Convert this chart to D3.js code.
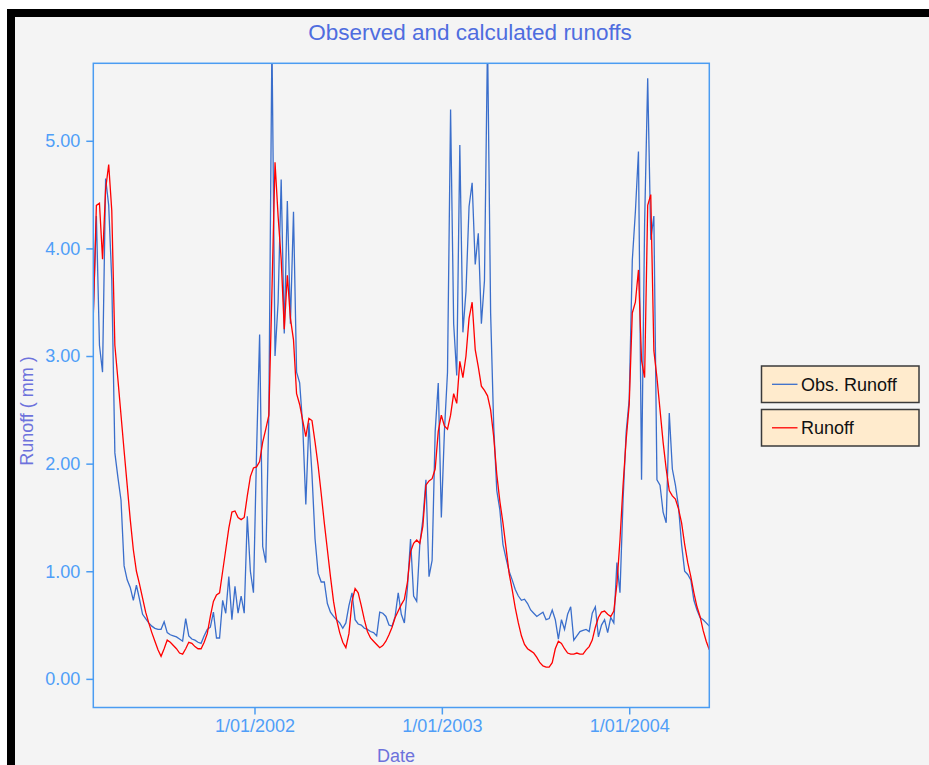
<!DOCTYPE html>
<html>
<head>
<meta charset="utf-8">
<script src="https://cdn.jsdelivr.net/npm/d3@7"></script>
<style>
  html, body { margin: 0; padding: 0; background: #ffffff; }
  svg { display: block; }
  text { font-family: "Liberation Sans", Arial, sans-serif; }
</style>
</head>
<body>
<svg id="chart" width="929" height="765"></svg>
<script>
// Daily runoff series, sampled every 6 days from 21 Feb 2001
const seriesStart = Date.UTC(2001, 1, 21);
const stepDays = 6;

// Observed runoff (mm)
const obsRunoff = [
  3.40, 4.30, 3.10, 2.85, 4.65, 4.40, 3.70, 2.10, 1.87, 1.66,
  1.05, 0.92, 0.85, 0.73, 0.87, 0.74, 0.60, 0.56, 0.52, 0.49,
  0.47, 0.46, 0.46, 0.53, 0.43, 0.41, 0.40, 0.39, 0.37, 0.35,
  0.56, 0.40, 0.37, 0.36, 0.34, 0.33, 0.40, 0.46, 0.48, 0.62,
  0.38, 0.38, 0.73, 0.61, 0.95, 0.55, 0.86, 0.61, 0.77, 0.61,
  1.51, 1.00, 0.80, 2.10, 3.20, 1.23, 1.08, 2.47, 5.95, 3.00,
  3.50, 4.64, 3.21, 4.44, 3.30, 4.34, 2.85, 2.75, 2.35, 1.62,
  2.38, 1.90, 1.30, 0.98, 0.90, 0.90, 0.70, 0.62, 0.58, 0.55,
  0.52, 0.47, 0.52, 0.68, 0.80, 0.55, 0.51, 0.50, 0.47, 0.46,
  0.44, 0.43, 0.40, 0.62, 0.61, 0.58, 0.50, 0.49, 0.58, 0.80,
  0.60, 0.52, 0.85, 1.30, 0.77, 0.72, 1.25, 1.48, 1.85, 0.95,
  1.10, 2.30, 2.75, 1.50, 2.30, 2.85, 5.29, 3.30, 2.82, 4.96,
  3.22, 3.60, 4.39, 4.61, 3.85, 4.14, 3.30, 3.70, 5.95, 3.40,
  2.35, 1.75, 1.57, 1.25, 1.12, 1.00, 0.92, 0.83, 0.77, 0.73,
  0.74, 0.70, 0.64, 0.61, 0.58, 0.60, 0.62, 0.55, 0.56, 0.64,
  0.55, 0.37, 0.55, 0.46, 0.60, 0.67, 0.36, 0.40, 0.44, 0.45,
  0.46, 0.44, 0.61, 0.67, 0.39, 0.50, 0.55, 0.43, 0.57, 0.52,
  1.08, 0.80, 1.66, 2.29, 2.60, 3.89, 4.34, 4.90, 1.85, 4.24,
  5.58, 4.08, 4.30, 1.85, 1.80, 1.55, 1.45, 2.47, 1.95, 1.80,
  1.60, 1.25, 1.00, 0.97, 0.92, 0.73, 0.64, 0.57, 0.55, 0.52,
  0.49
];

// Calculated runoff (mm)
const calcRunoff = [
  3.37, 4.40, 4.42, 3.90, 4.55, 4.78, 4.35, 3.10, 2.78, 2.45,
  2.12, 1.80, 1.48, 1.20, 1.00, 0.88, 0.75, 0.62, 0.52, 0.43,
  0.35, 0.27, 0.21, 0.28, 0.36, 0.34, 0.31, 0.28, 0.24, 0.23,
  0.28, 0.34, 0.33, 0.30, 0.28, 0.28, 0.34, 0.42, 0.58, 0.72,
  0.78, 0.80, 1.00, 1.20, 1.40, 1.55, 1.56, 1.50, 1.48, 1.50,
  1.70, 1.88, 1.96, 1.97, 2.02, 2.20, 2.32, 2.45, 3.60, 4.80,
  4.30, 3.90, 3.25, 3.75, 3.35, 3.15, 2.65, 2.55, 2.40, 2.25,
  2.42, 2.40, 2.20, 1.98, 1.72, 1.45, 1.20, 0.95, 0.72, 0.55,
  0.43, 0.34, 0.29, 0.42, 0.72, 0.84, 0.80, 0.68, 0.55, 0.44,
  0.38, 0.35, 0.32, 0.29, 0.31, 0.35, 0.41, 0.48, 0.57, 0.63,
  0.69, 0.74, 0.90, 1.18, 1.26, 1.29, 1.26, 1.42, 1.80, 1.84,
  1.86, 1.95, 2.30, 2.45, 2.35, 2.32, 2.45, 2.65, 2.56, 2.95,
  2.80, 3.00, 3.35, 3.50, 3.06, 2.90, 2.72, 2.68, 2.63, 2.50,
  2.25, 1.90, 1.65, 1.45, 1.22, 0.98, 0.83, 0.66, 0.52, 0.40,
  0.32, 0.28, 0.26, 0.24, 0.20, 0.15, 0.12, 0.11, 0.11, 0.15,
  0.28, 0.35, 0.33, 0.28, 0.24, 0.23, 0.23, 0.24, 0.23, 0.23,
  0.27, 0.30, 0.36, 0.48, 0.57, 0.62, 0.63, 0.60, 0.58, 0.63,
  0.88, 1.29, 1.80, 2.22, 2.55, 3.40, 3.50, 3.80, 2.96, 2.80,
  4.40, 4.50, 3.05, 2.80, 2.50, 2.20, 1.95, 1.75, 1.70, 1.67,
  1.58, 1.45, 1.25, 1.08, 0.95, 0.80, 0.67, 0.58, 0.45, 0.35,
  0.27
];

const yTicks = [0, 1, 2, 3, 4, 5];
const xTickDates = [Date.UTC(2002, 0, 1), Date.UTC(2003, 0, 1), Date.UTC(2004, 0, 1)];
const legendItems = ["Obs. Runoff", "Runoff"];

const colObs = "#3a6ecb";
const colCalc = "#ff0000";
const colAxis = "#4a9cf2";
const colTickText = "#4f9ef8";
const colTitle = "#4f6ddf";
const colAxisTitle = "#6d72dc";

const svg = d3.select("#chart");

// window frame: white margin, thick black edge, light grey panel
svg.append("rect").attr("x", 7).attr("y", 9).attr("width", 940).attr("height", 780).attr("fill", "#000");
svg.append("rect").attr("x", 15).attr("y", 17).attr("width", 930).attr("height", 760).attr("fill", "#f4f4f4");

const plot = { left: 93.3, right: 709.3, top: 63.3, bottom: 707.5 };

const dayMs = 86400000;
const dates = obsRunoff.map((_, i) => new Date(seriesStart + i * stepDays * dayMs));
const xDomainEnd = new Date(seriesStart + (obsRunoff.length - 1) * stepDays * dayMs);

const x = d3.scaleUtc().domain([new Date(seriesStart), xDomainEnd]).range([plot.left, plot.right]);
const y = d3.scaleLinear().domain([-0.266, 5.72]).range([plot.bottom, plot.top]);

// title
svg.append("text")
  .attr("x", 470).attr("y", 39.5)
  .attr("text-anchor", "middle")
  .attr("font-size", 22.5)
  .attr("fill", colTitle)
  .text("Observed and calculated runoffs");

// clip for series
svg.append("clipPath").attr("id", "plotClip")
  .append("rect")
  .attr("x", plot.left).attr("y", plot.top)
  .attr("width", plot.right - plot.left).attr("height", plot.bottom - plot.top);

const line = d3.line()
  .x((d, i) => x(dates[i]))
  .y(d => y(d));

const series = svg.append("g").attr("clip-path", "url(#plotClip)");
series.append("path").datum(obsRunoff)
  .attr("d", line).attr("fill", "none")
  .attr("stroke", colObs).attr("stroke-width", 1.3);
series.append("path").datum(calcRunoff)
  .attr("d", line).attr("fill", "none")
  .attr("stroke", colCalc).attr("stroke-width", 1.3);

// plot frame
svg.append("rect")
  .attr("x", plot.left).attr("y", plot.top)
  .attr("width", plot.right - plot.left).attr("height", plot.bottom - plot.top)
  .attr("fill", "none").attr("stroke", colAxis).attr("stroke-width", 1.5);

// y axis
const yAxis = svg.append("g")
  .attr("transform", `translate(${plot.left},0)`)
  .call(d3.axisLeft(y).tickValues(yTicks).tickFormat(d3.format(".2f")).tickSize(7).tickPadding(6));
yAxis.select(".domain").remove();
yAxis.selectAll(".tick line").attr("stroke", colAxis).attr("stroke-width", 1.5);
yAxis.selectAll(".tick text")
  .attr("fill", colTickText).attr("font-size", 18)
  .attr("font-family", "Liberation Sans, Arial, sans-serif");

// x axis
const xAxis = svg.append("g")
  .attr("transform", `translate(0,${plot.bottom})`)
  .call(d3.axisBottom(x).tickValues(xTickDates.map(t => new Date(t)))
    .tickFormat(d3.utcFormat("%-d/%m/%Y")).tickSize(7).tickPadding(5));
xAxis.select(".domain").remove();
xAxis.selectAll(".tick line").attr("stroke", colAxis).attr("stroke-width", 1.5);
xAxis.selectAll(".tick text")
  .attr("fill", colTickText).attr("font-size", 18)
  .attr("font-family", "Liberation Sans, Arial, sans-serif");

// axis titles
svg.append("text")
  .attr("transform", "translate(27,411) rotate(-90)")
  .attr("text-anchor", "middle")
  .attr("dominant-baseline", "central")
  .attr("font-size", 18)
  .attr("fill", colAxisTitle)
  .text("Runoff ( mm )");

svg.append("text")
  .attr("x", 396).attr("y", 762)
  .attr("text-anchor", "middle")
  .attr("font-size", 18)
  .attr("fill", colAxisTitle)
  .text("Date");

// legend
const legendColors = [colObs, colCalc];
const legend = svg.append("g");
legendItems.forEach((label, k) => {
  const top = 366 + k * 43.5;
  const g = legend.append("g").attr("transform", `translate(761.5,${top})`);
  g.append("rect").attr("width", 157.5).attr("height", 36.5)
    .attr("fill", "#ffebcd").attr("stroke", "#3a3a3a").attr("stroke-width", 1.5);
  g.append("line").attr("x1", 10.5).attr("x2", 36).attr("y1", 18.3).attr("y2", 18.3)
    .attr("stroke", legendColors[k]).attr("stroke-width", 1.3);
  g.append("text").attr("x", 39.5).attr("y", 24.5)
    .attr("font-size", 18).attr("fill", "#111")
    .text(label);
});
</script>
</body>
</html>
